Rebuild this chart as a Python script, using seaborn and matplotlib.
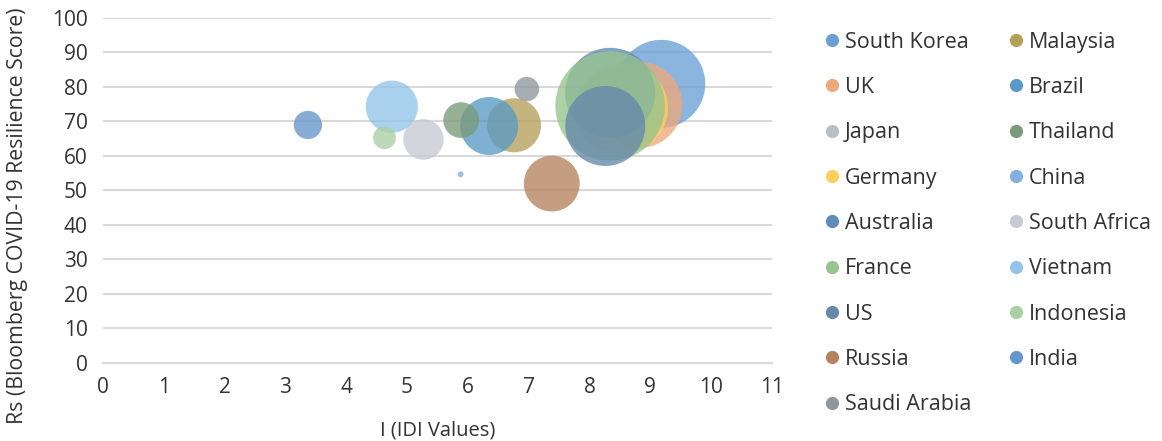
import matplotlib
matplotlib.use("Agg")
import matplotlib.pyplot as plt
from matplotlib.lines import Line2D
import pandas as pd
import seaborn as sns

# Countries in series order (legend reads row by row in two columns)
countries = ["South Korea", "UK", "Japan", "Germany", "Australia", "France", "US",
             "Russia", "Saudi Arabia", "Malaysia", "Brazil", "Thailand", "China",
             "South Africa", "Vietnam", "Indonesia", "India"]
idi_values = [9.18, 8.82, 8.40, 8.55, 8.34, 8.34, 8.26,
              7.38, 6.97, 6.76, 6.35, 5.89, 5.88,
              5.27, 4.75, 4.63, 3.37]
resilience_scores = [80.9, 74.8, 73.0, 73.9, 78.3, 74.5, 68.7,
                     52.0, 79.4, 68.9, 68.7, 70.4, 54.7,
                     64.8, 74.3, 65.3, 69.0]
bubble_sizes = [19.4, 18.5, 16.0, 20.3, 20.3, 30.3, 16.0,
                7.8, 1.5, 7.3, 8.4, 3.2, 0.09,
                4.1, 6.8, 1.3, 2.0]
colors = ["#6a9fd6", "#eca97c", "#b8bfc8", "#fdd05c", "#5f8bb8", "#97c38e", "#6688ac",
          "#b5835f", "#8f979e", "#b79f5a", "#5a9ac4", "#7a9b7a", "#87aee0",
          "#c8cad3", "#93c4ea", "#a9cfa5", "#6596cc"]

x_ticks = list(range(0, 12))
y_ticks = list(range(0, 101, 10))

df = pd.DataFrame({"country": countries, "idi": idi_values,
                   "score": resilience_scores, "bubble": bubble_sizes})
palette = dict(zip(countries, colors))

sns.set_theme(style="white")
plt.rcParams["font.family"] = ["Open Sans", "DejaVu Sans"]
text_color = "#333333"
grid_color = "#d9d9d9"

fig = plt.figure(figsize=(11.62, 4.41), dpi=100)
ax = fig.add_axes([0.0886, 0.1769, 0.5757, 0.7823])

ax.set_xlim(0, 11)
ax.set_ylim(0, 100)
ax.set_yticks(y_ticks)
ax.set_xticks(x_ticks)
for yv in y_ticks[1:]:
    ax.axhline(yv, color=grid_color, lw=1.5, zorder=0)

area_per_unit = 207.36
sns.scatterplot(data=df, x="idi", y="score", hue="country", palette=palette,
                size="bubble", sizes=(0, area_per_unit * 30.0), size_norm=(0, 30.0),
                alpha=0.78, linewidth=0, legend=False, ax=ax, zorder=3)

for side in ["left", "top", "right"]:
    ax.spines[side].set_visible(False)
ax.spines["bottom"].set_color(grid_color)
ax.spines["bottom"].set_linewidth(1.6)

ax.tick_params(axis="x", direction="in", length=4.5, width=1.2, color=grid_color,
               pad=10, labelsize=15, labelcolor=text_color)
ax.tick_params(axis="y", length=0, pad=11, labelsize=15, labelcolor=text_color)

ax.set_xlabel("I (IDI Values)", fontsize=14.5, color=text_color, labelpad=16)
ax.set_ylabel("Rs (Bloomberg COVID-19 Resilience Score)", fontsize=15.3,
              color=text_color)
ax.yaxis.set_label_coords(-0.1125, 0.426)

handles = [Line2D([0], [0], marker="o", linestyle="", markersize=9.5,
                  markerfacecolor=c, markeredgewidth=0, label=n)
           for n, c in zip(countries, colors)]
fig.legend(handles=handles, loc="upper left", bbox_to_anchor=(0.703, 0.948),
           ncol=2, frameon=False, fontsize=15.5, labelcolor=text_color,
           handlelength=0.6, handletextpad=0.3, columnspacing=1.78,
           labelspacing=1.13, borderaxespad=0)

fig.savefig("out.png", dpi=100)
